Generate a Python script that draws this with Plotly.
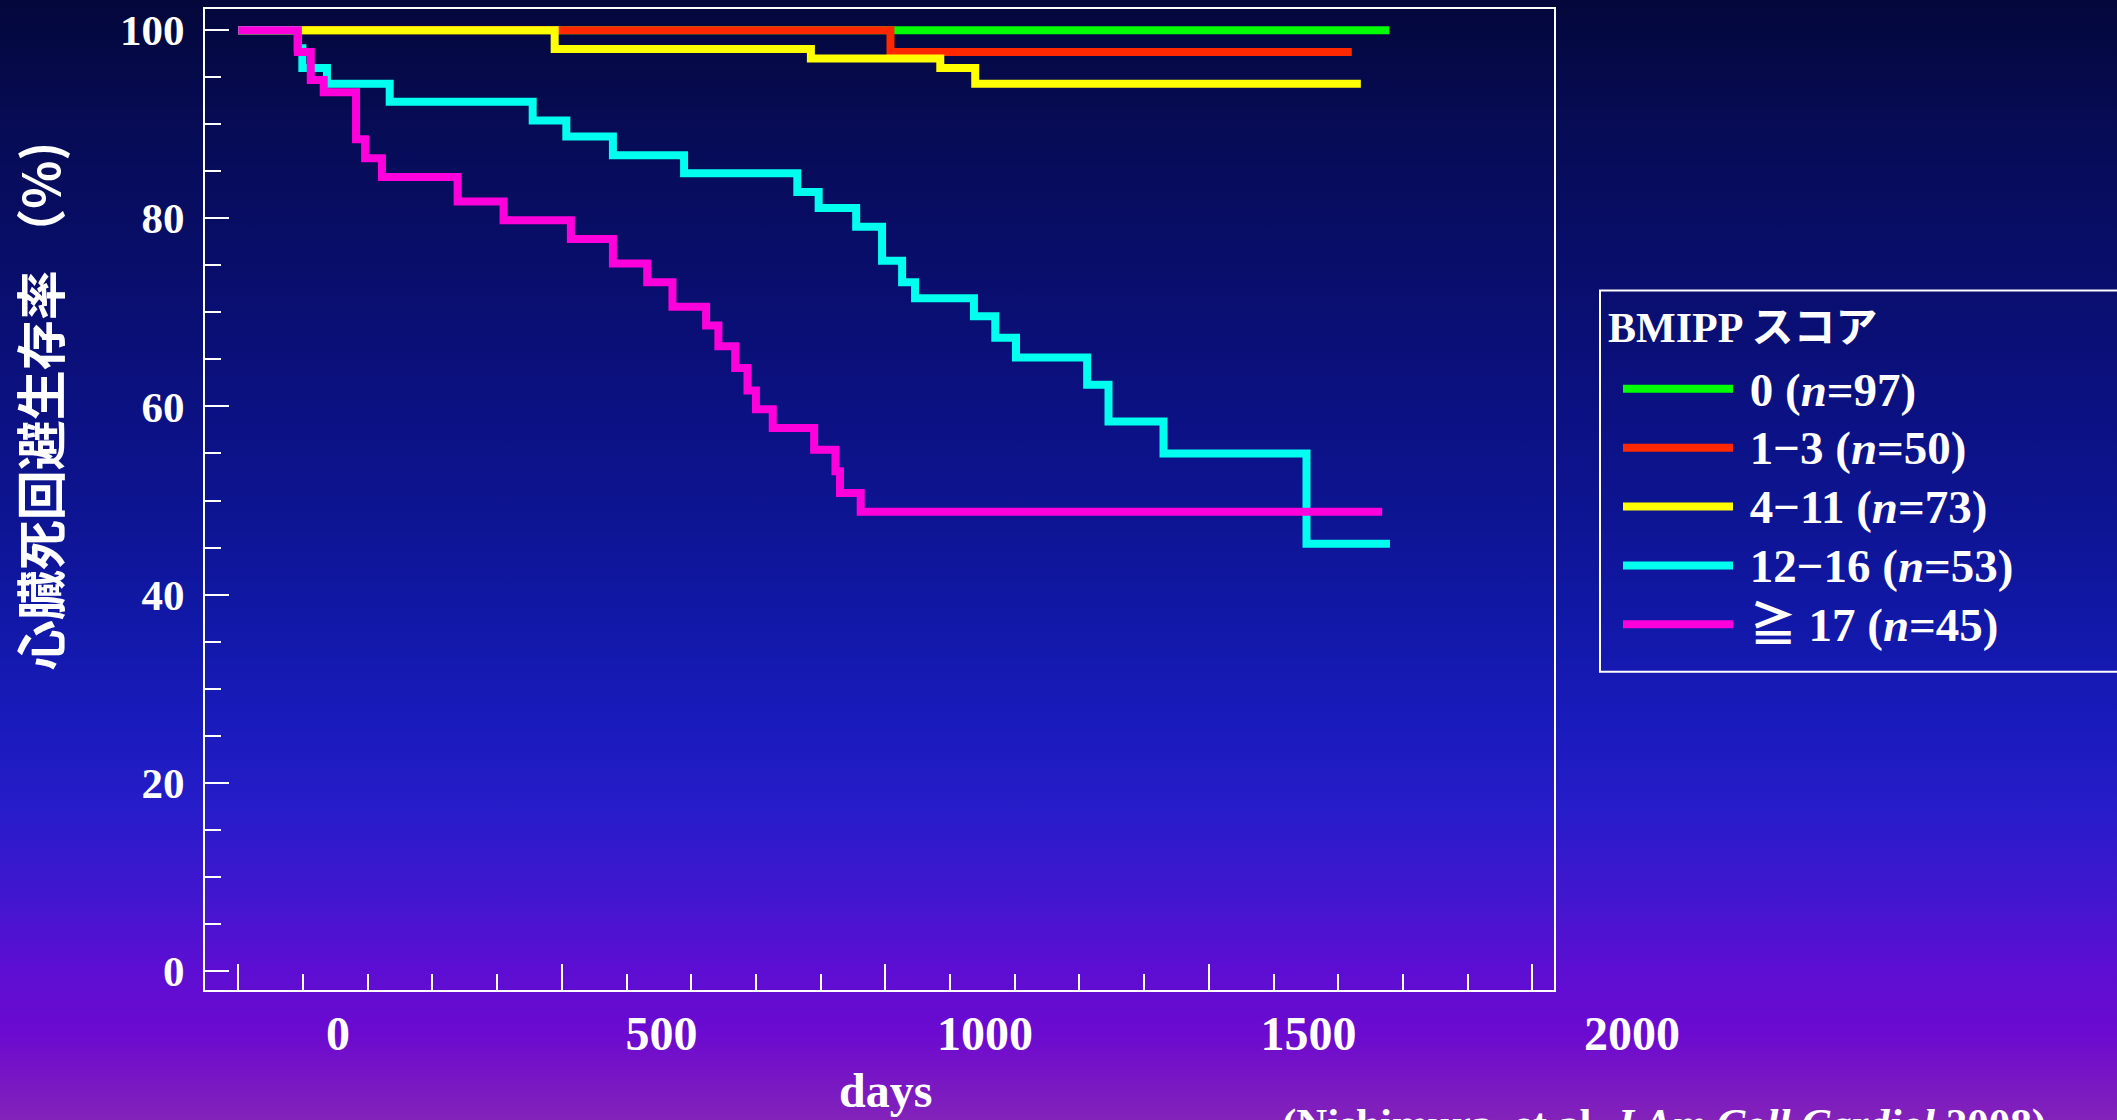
import base64
import plotly.graph_objects as go

# ---- Kaplan-Meier curves: cardiac-death-free survival (%) by BMIPP score ----
days_0 = [0, 1779]
surv_0 = [100, 100]

days_1_3 = [0, 1008, 1721]
surv_1_3 = [100, 97.7, 97.7]

days_4_11 = [0, 489, 885, 1085, 1139, 1735]
surv_4_11 = [100, 98.0, 97.0, 96.0, 94.3, 94.3]

days_12_16 = [0, 92, 99, 137, 234, 455, 507, 579, 689, 864, 897, 955, 995,
              1026, 1046, 1137, 1170, 1202, 1312, 1345, 1430, 1651, 1780]
surv_12_16 = [100, 98.1, 96.0, 94.3, 92.4, 90.4, 88.7, 86.7, 84.8, 82.8, 81.1,
              79.1, 75.5, 73.2, 71.5, 69.6, 67.3, 65.2, 62.3, 58.4, 55.0, 45.4, 45.4]

days_17 = [0, 92, 112, 132, 182, 196, 222, 339, 410, 514, 579, 632, 671, 723,
           742, 768, 787, 800, 826, 890, 923, 930, 962, 1768]
surv_17 = [100, 97.7, 94.7, 93.4, 88.4, 86.4, 84.4, 81.8, 79.8, 77.8, 75.2, 73.2,
           70.6, 68.6, 66.4, 64.1, 61.7, 59.7, 57.7, 55.4, 53.1, 50.8, 48.8, 48.8]

group_labels = ["0 (<i>n</i>=97)", "1\u22123 (<i>n</i>=50)", "4\u221211 (<i>n</i>=73)",
                "12\u221216 (<i>n</i>=53)", "\u2267 17 (<i>n</i>=45)"]
group_colors = ["#00ff00", "#ff2800", "#ffff00", "#00ffee", "#ff00dc"]
legend_title = "BMIPP スコア"

x_tick_values = [0, 500, 1000, 1500, 2000]
x_tick_labels = ["0", "500", "1000", "1500", "2000"]
y_tick_values = [0, 20, 40, 60, 80, 100]

x_title = "days"
y_title = "心臓死回避生存率 （%)"
source_note = "(Nishimura, et al. <i>J Am Coll Cardiol</i> 2008)"

# ---- page geometry ----
W, H = 2117, 1120
ML, MR, MT, MB = 205, 50, 7, 130
PW, PH = W - ML - MR, H - MT - MB


def fx(p):
    return (p - ML) / PW


def fy(p):
    return (H - MB - p) / PH


SERIF = "Liberation Serif, Noto Sans CJK JP, serif"
GOTHIC = "Noto Sans CJK JP, sans-serif"
WHITE = "#ffffff"

fig = go.Figure()

series = [(days_0, surv_0), (days_1_3, surv_1_3), (days_4_11, surv_4_11),
          (days_12_16, surv_12_16), (days_17, surv_17)]
for (d, s), name, col in zip(series, group_labels, group_colors):
    fig.add_trace(go.Scatter(
        x=d, y=s, mode="lines",
        name=f'<span style="font-size:47px"> {name}</span>',
        line=dict(color=col, width=8, shape="hv"),
        hoverinfo="skip",
    ))

# carrier for the labelled day scale drawn under the plot frame
fig.add_trace(go.Scatter(x=[], y=[], xaxis="x2", yaxis="y",
                         showlegend=False, hoverinfo="skip"))

# vertical background gradient
stops = [(0.00, "#03073a"), (0.10, "#060b52"), (0.30, "#0a0f76"),
         (0.45, "#0d1490"), (0.55, "#1118a6"), (0.65, "#1a1bbd"),
         (0.72, "#271cc9"), (0.80, "#4216cf"), (0.86, "#5c0ed2"),
         (0.92, "#6c0ad0"), (0.96, "#7816c4"), (1.00, "#8424b8")]
stop_tags = "".join(f'<stop offset="{o}" stop-color="{c}"/>' for o, c in stops)
svg = (f'<svg xmlns="http://www.w3.org/2000/svg" width="{W}" height="{H}" '
       f'preserveAspectRatio="none"><defs><linearGradient id="g" x1="0" y1="0" '
       f'x2="0" y2="1">{stop_tags}</linearGradient></defs>'
       f'<rect width="{W}" height="{H}" fill="url(#g)"/></svg>')
bg_src = "data:image/svg+xml;base64," + base64.b64encode(svg.encode()).decode()

# day scale: day 0 at x=238.3 px, 0.647 px per day
PX_PER_DAY = 0.647
X0 = 238.3
x_right = 1553.5
x_range = [(ML - X0) / PX_PER_DAY, (x_right - X0) / PX_PER_DAY]
LABEL_X0 = 337.9
x2_range = [(ML - LABEL_X0) / PX_PER_DAY, (W - MR - LABEL_X0) / PX_PER_DAY]

# survival scale: 0 % at y=970.7 px, 9.424 px per %
Y0 = 970.7
PX_PER_PCT = 9.424
y_range = [-((H - MB) - Y0) / PX_PER_PCT, (Y0 - MT) / PX_PER_PCT]

tick_font = dict(family=SERIF, size=48, color=WHITE, weight="bold")

fig.update_layout(
    width=W, height=H,
    margin=dict(l=ML, r=MR, t=MT, b=MB, pad=0),
    paper_bgcolor="#03073a",
    plot_bgcolor="rgba(0,0,0,0)",
    showlegend=True,
    images=[dict(source=bg_src, xref="paper", yref="paper",
                 x=fx(-4), y=fy(-4), sizex=(W + 8) / PW, sizey=(H + 8) / PH,
                 xanchor="left", yanchor="top", sizing="stretch",
                 layer="below")],
    xaxis=dict(
        domain=[0, fx(x_right)], range=x_range, anchor="y",
        showline=True, linecolor=WHITE, linewidth=2, mirror=True,
        showgrid=False, zeroline=False,
        ticks="inside", tick0=0, dtick=500, ticklen=26, tickwidth=2,
        tickcolor=WHITE, showticklabels=False,
        minor=dict(ticks="inside", tick0=0, dtick=100, ticklen=16,
                   tickwidth=2, tickcolor=WHITE, showgrid=False),
    ),
    xaxis2=dict(
        domain=[0, 1], range=x2_range, anchor="y",
        showline=False, showgrid=False, zeroline=False, ticks="",
        tickmode="array", tickvals=x_tick_values, ticktext=x_tick_labels,
        tickfont=tick_font, ticklabelstandoff=11,
    ),
    yaxis=dict(
        domain=[0, 1], range=y_range, anchor="x",
        showline=True, linecolor=WHITE, linewidth=2, mirror=True,
        showgrid=False, zeroline=False,
        ticks="inside", tickmode="array", tickvals=y_tick_values,
        ticklen=24, tickwidth=2, tickcolor=WHITE,
        tickfont=dict(family=SERIF, size=43, color=WHITE, weight="bold"),
        ticklabelstandoff=10,
        minor=dict(ticks="inside", tick0=0, dtick=5, ticklen=16,
                   tickwidth=2, tickcolor=WHITE, showgrid=False),
    ),
    legend=dict(
        x=fx(1600), y=fy(353), xanchor="left", yanchor="top",
        bgcolor="rgba(0,0,0,0)", borderwidth=0,
        font=dict(family=SERIF, size=43, color=WHITE, weight="bold"),
        itemwidth=110, indentation=18, tracegroupgap=0,
    ),
    shapes=[dict(type="rect", xref="paper", yref="paper",
                 x0=fx(1600), x1=fx(2130), y0=fy(671), y1=fy(289),
                 line=dict(color=WHITE, width=2), fillcolor="rgba(0,0,0,0)")],
    annotations=[
        dict(text=legend_title, x=fx(1606), y=fy(327), xref="paper", yref="paper",
             showarrow=False, xanchor="left", yanchor="middle",
             font=dict(family=SERIF, size=42, color=WHITE, weight="bold")),
        dict(text=y_title, x=fx(38), y=fy(405), xref="paper", yref="paper",
             textangle=-90, showarrow=False, xanchor="center", yanchor="middle",
             font=dict(family=GOTHIC, size=50, color=WHITE, weight="bold")),
        dict(text=x_title, x=fx(885), y=fy(1062), xref="paper", yref="paper",
             showarrow=False, xanchor="center", yanchor="top",
             font=dict(family=SERIF, size=48, color=WHITE, weight="bold")),
        dict(text=source_note, x=fx(1280), y=fy(1098), xref="paper", yref="paper",
             showarrow=False, xanchor="left", yanchor="top",
             font=dict(family=SERIF, size=43, color=WHITE, weight="bold")),
    ],
)

fig.write_html("out.html")
